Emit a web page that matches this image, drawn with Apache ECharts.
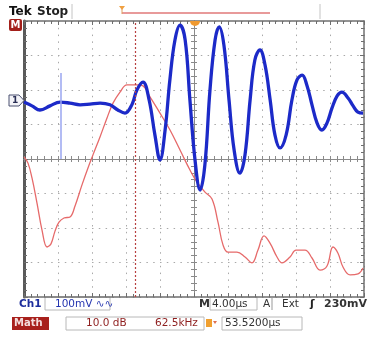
<!DOCTYPE html>
<html>
<head>
<meta charset="utf-8">
<script src="https://cdn.jsdelivr.net/npm/echarts@6/dist/echarts.min.js"></script>
<style>
  html, body { margin: 0; padding: 0; background: #fff; }
  #scope { width: 371px; height: 341px; }
</style>
</head>
<body>
<div id="scope"></div>
<script>
// Ch1 trace: time (µs from left edge, 4 µs/div) and voltage (mV from centre, 100 mV/div)
var blueTime = [0, 0.94, 1.88, 3.06, 4.24, 5.4, 6.6, 7.76, 8.96, 10.12, 11.04, 11.88, 12.72, 13.28, 14.0,
  14.72, 15.4, 16.0, 16.6, 17.16, 17.76, 18.36, 18.96, 19.52, 20.12, 20.72, 21.28, 21.88, 22.48, 22.96,
  23.52, 24.12, 24.72, 25.4, 26.0, 26.6, 27.16, 27.76, 28.36, 28.96, 29.52, 30.12, 30.84, 31.52, 32.12,
  32.72, 33.28, 33.88, 34.48, 35.04, 35.64, 36.24, 36.84, 37.4, 38.12, 38.72, 39.28, 39.88];
var blueMv = [165, 154, 142, 154, 165, 162, 157, 159, 162, 157, 142, 133, 159, 200, 223,
  171, 70, -3, 84, 229, 345, 388, 345, 171, -3, -90, -17, 200, 345, 383,
  330, 171, 26, -41, 12, 171, 287, 316, 272, 171, 70, 32, 70, 171, 229,
  243, 214, 157, 104, 84, 104, 148, 183, 194, 177, 154, 136, 133];

// Math (FFT) trace: frequency (kHz, 62.5 kHz/div) and level (dB from centre, 10 dB/div)
var redFreq = [0, 7.35, 14.7, 23.9, 33.1, 42.3, 49.6, 57.0, 64.3, 73.5, 84.6, 93.8, 106.6, 117.6, 126.8,
  139.7, 152.6, 163.6, 176.5, 189.3, 207.7, 218.8, 231.6, 250.0, 268.4, 286.8, 305.1, 318.0, 332.7,
  345.6, 356.6, 365.8, 375.0, 391.5, 406.3, 419.1, 430.1, 441.2, 452.2, 465.1, 474.3, 489.0, 500.0,
  516.5, 529.4, 544.1, 557.0, 568.0, 577.2, 586.4, 599.3, 614.0, 623.2];
var redDb = [0.6, -1.2, -5.5, -12.8, -20.6, -25.5, -24.6, -20.9, -18.3, -17.1, -16.8, -13.6, -7.5, -2.6, 1.2,
  6.4, 11.9, 16.2, 19.4, 21.5, 21.5, 21.2, 18.0, 13.3, 8.4, 2.6, -3.2, -6.7, -9.6,
  -11.6, -18.3, -24.9, -27.0, -27.0, -28.4, -30.1, -26.4, -22.3, -24.4, -28.4, -30.1, -28.4, -26.4,
  -26.4, -28.7, -32.2, -31.0, -25.5, -27.3, -31.3, -33.6, -33.3, -31.6];

var chart = echarts.init(document.getElementById('scope'));

var tickCol = '#6e6e6e';
function edgeAxis(pos, min, max, step, lineW) {
  return {
    type: 'value', position: pos, min: min, max: max, interval: step,
    axisLine: { show: true, onZero: false, lineStyle: { color: '#707070', width: lineW } },
    axisTick: { show: true, inside: true, length: 4, lineStyle: { color: tickCol } },
    minorTick: { show: true, splitNumber: 5, length: 3, lineStyle: { color: tickCol } },
    axisLabel: { show: false },
    splitLine: { show: false }
  };
}
function centreAxis(pos, min, max, step) {
  return {
    type: 'value', position: pos, min: min, max: max, interval: step,
    axisLine: { show: true, onZero: true, onZeroAxisIndex: pos == 'top' || pos == 'bottom' ? 0 : 2,
      lineStyle: { color: '#8a8a8a', width: 1 } },
    axisTick: { show: true, inside: true, length: 3, lineStyle: { color: '#8a8a8a' } },
    minorTick: { show: true, splitNumber: 5, length: 3, lineStyle: { color: '#8a8a8a' } },
    axisLabel: { show: false },
    splitLine: { show: false }
  };
}

var xTime = edgeAxis('bottom', 0, 40, 4, 1.5);
xTime.splitLine = { show: true, lineStyle: { color: '#a9a9a9', width: 1, type: [1.5, 5.3] } };
var yVolt = edgeAxis('left', -400, 400, 100, 3);
yVolt.axisLine.lineStyle.color = '#5a5a5a';
yVolt.splitLine = { show: true, lineStyle: { color: '#a9a9a9', width: 1, type: [1.5, 5.3] } };

function pairs(a, b) { return a.map(function (v, i) { return [v, b[i]]; }); }

function txt(x, y, s, col, font, z) {
  return { type: 'text', x: x, y: y, z: z || 10, style: { text: s, fill: col,
    font: font || 'bold 11px "DejaVu Sans"', textVerticalAlign: 'middle' } };
}
var reg = '10.5px "DejaVu Sans"';

chart.setOption({
  animation: false,
  backgroundColor: '#fff',
  grid: { left: 24, right: 7, top: 21, bottom: 44 },
  xAxis: [
    xTime,
    edgeAxis('top', 0, 625, 62.5, 1.5),
    centreAxis('bottom', -20, 20, 4),
    centreAxis('top', -20, 20, 4)
  ],
  yAxis: [
    yVolt,
    edgeAxis('right', -40, 40, 10, 1.5),
    centreAxis('left', -400, 400, 100),
    centreAxis('right', -400, 400, 100)
  ],
  series: [
    {
      name: 'Math', type: 'line', xAxisIndex: 1, yAxisIndex: 1, z: 3,
      data: pairs(redFreq, redDb), symbol: 'none', smooth: 0.4,
      lineStyle: { color: '#e66a6a', width: 1.3 }
    },
    {
      name: 'Ch1', type: 'line', xAxisIndex: 0, yAxisIndex: 0, z: 4,
      data: pairs(blueTime, blueMv), symbol: 'none', smooth: 0.4,
      lineStyle: { color: '#1c2ac8', width: 3.3 },
      markLine: {
        silent: true, symbol: 'none', animation: false, label: { show: false },
        data: [
          { xAxis: 13.06, lineStyle: { color: '#b84040', type: [2, 2], width: 1.2 } },
          [{ coord: [4.35, 249], lineStyle: { color: '#9aa6f0', type: 'solid', width: 1.5 } }, { coord: [4.35, 0] }]
        ]
      }
    }
  ],
  graphic: [
    txt(9, 12, 'Tek', '#111', 'bold 12px "DejaVu Sans"'),
    txt(37, 12, 'Stop', '#222', 'bold 12px "DejaVu Sans"'),
    { type: 'line', shape: { x1: 72, y1: 4, x2: 72, y2: 19 }, style: { stroke: '#c4c4c4', lineWidth: 1 } },
    { type: 'line', shape: { x1: 320, y1: 4, x2: 320, y2: 19 }, style: { stroke: '#c4c4c4', lineWidth: 1 } },
    { type: 'line', shape: { x1: 122, y1: 13, x2: 270, y2: 13 }, style: { stroke: '#e89a9a', lineWidth: 2 } },
    { type: 'line', shape: { x1: 122, y1: 8, x2: 122, y2: 14 }, style: { stroke: '#e0a060', lineWidth: 1 } },
    { type: 'polygon', shape: { points: [[119, 6], [125, 6], [122, 10]] }, style: { fill: '#f0a040' } },
    { type: 'sector', z: 11, shape: { cx: 195, cy: 21, r: 5, startAngle: 0, endAngle: Math.PI }, style: { fill: '#f09a30' } },
    { type: 'rect', z: 11, shape: { x: 9, y: 19, width: 13, height: 12, r: 2 }, style: { fill: '#a31f1a' } },
    txt(10.5, 25.5, 'M', '#fff', 'bold 10px "DejaVu Sans"', 12),
    { type: 'polygon', z: 11, shape: { points: [[9, 95], [19, 95], [24, 100.5], [19, 106], [9, 106]] },
      style: { fill: '#f4f4f8', stroke: '#4a5070', lineWidth: 1 } },
    txt(12, 101, '1', '#2a2f55', 'bold 9px "DejaVu Sans"', 12),

    // bottom readouts, row 1
    txt(19, 304, 'Ch1', '#1c2c9c', 'bold 10.5px "DejaVu Sans"'),
    { type: 'rect', shape: { x: 45, y: 297, width: 65, height: 13 }, style: { fill: 'none', stroke: '#b8b8b8', lineWidth: 1 } },
    txt(55, 304, '100mV \u223F\u223F', '#2535b0', reg),
    txt(199, 304, 'M', '#333'),
    { type: 'rect', shape: { x: 210, y: 297, width: 47, height: 13 }, style: { fill: 'none', stroke: '#b8b8b8', lineWidth: 1 } },
    txt(212, 304, '4.00\u00B5s', '#333', reg),
    txt(263, 304, 'A', '#333', reg),
    { type: 'line', shape: { x1: 272, y1: 298, x2: 272, y2: 310 }, style: { stroke: '#999', lineWidth: 1 } },
    txt(282, 304, 'Ext', '#333', reg),
    txt(310, 304, '\u0283', '#222'),
    txt(324, 304, '230mV', '#333'),

    // bottom readouts, row 2
    { type: 'rect', shape: { x: 12, y: 317, width: 37, height: 13 }, style: { fill: '#a8201c' } },
    txt(14, 323.5, 'Math', '#f4dede', 'bold 10px "DejaVu Sans"', 12),
    { type: 'rect', shape: { x: 66, y: 317, width: 138, height: 13 }, style: { fill: 'none', stroke: '#b8b8b8', lineWidth: 1 } },
    txt(86, 323.5, '10.0 dB', '#8e1e1e', reg),
    txt(155, 323.5, '62.5kHz', '#8e1e1e', reg),
    { type: 'rect', shape: { x: 206, y: 319, width: 6, height: 8 }, style: { fill: '#f0a030' } },
    { type: 'polygon', shape: { points: [[213, 321], [217, 321], [215, 324]] }, style: { fill: '#e07050' } },
    { type: 'rect', shape: { x: 222, y: 317, width: 80, height: 13 }, style: { fill: 'none', stroke: '#b8b8b8', lineWidth: 1 } },
    txt(225, 323.5, '53.5200\u00B5s', '#333', reg)
  ]
});
</script>
</body>
</html>
